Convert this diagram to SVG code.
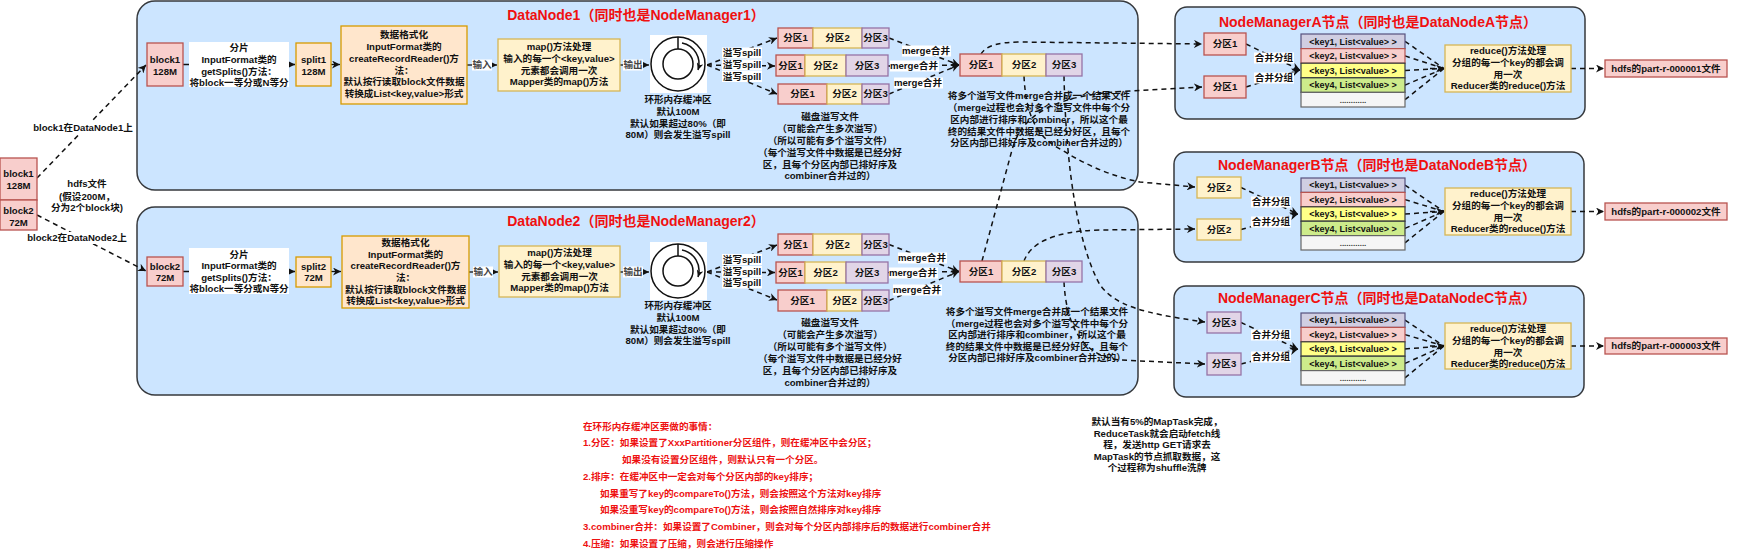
<svg xmlns="http://www.w3.org/2000/svg" width="1739" height="550" viewBox="0 0 1739 550">
<style>
text{font-family:"Liberation Sans","Noto Sans CJK SC",sans-serif;font-weight:bold;font-size:9.6px;fill:#111;text-anchor:middle}
.ttl{font-size:14px;fill:#f01010}
.red{fill:#ee1111;text-anchor:start}
.lbl{fill:#444}
.kt{font-size:9px}
.dots{font-size:8px;fill:#333}
.cont{fill:#cce5ff;stroke:#36393d;stroke-width:1.5}
.pink{fill:#f8cecc;stroke:#b85450;stroke-width:1.3}
.org{fill:#ffe6cc;stroke:#d79b00;stroke-width:1.3}
.yel{fill:#fff2cc;stroke:#d6b656;stroke-width:1.3}
.pur{fill:#e1d5e7;stroke:#9673a6;stroke-width:1.3}
.k1{fill:#d0cee2;stroke:#56517e;stroke-width:1.2}
.k2{fill:#f8cecc;stroke:#b85450;stroke-width:1.2}
.k3{fill:#ffff88;stroke:#36393d;stroke-width:1.2}
.k4{fill:#cdeb8b;stroke:#36393d;stroke-width:1.2}
.k5{fill:#f5f5f5;stroke:#666;stroke-width:1.2}
.sol{fill:none;stroke:#111;stroke-width:1.3}
.dsh{fill:none;stroke:#111;stroke-width:1.5;stroke-dasharray:5 4}
.bg{fill:#fff}
.ring{fill:none;stroke:#111;stroke-width:1.5}
</style>
<defs>
<marker id="a" viewBox="0 0 10 10" refX="10" refY="5" markerWidth="8" markerHeight="8" markerUnits="userSpaceOnUse" orient="auto"><path d="M0,0 L10,5 L0,10 L3,5 z" fill="#111"/></marker>
<marker id="s" viewBox="0 0 10 10" refX="10" refY="5" markerWidth="7" markerHeight="7" markerUnits="userSpaceOnUse" orient="auto"><path d="M0,0 L10,5 L0,10 L3,5 z" fill="#111"/></marker>
</defs>

<!-- containers -->
<g id="datanode1">
<rect class="cont" x="137" y="1" width="1001" height="189" rx="18"/>
<text class="ttl" x="636" y="20">DataNode1（同时也是NodeManager1）</text>
</g>
<g id="datanode2">
<rect class="cont" x="137" y="207" width="1001" height="188" rx="18"/>
<text class="ttl" x="636" y="226">DataNode2（同时也是NodeManager2）</text>
</g>
<g id="nodemanagerA">
<rect class="cont" x="1175" y="7" width="410" height="112" rx="12"/>
<text class="ttl" x="1378" y="27">NodeManagerA节点（同时也是DataNodeA节点）</text>
</g>
<g id="nodemanagerB">
<rect class="cont" x="1174" y="152" width="410" height="110" rx="12"/>
<text class="ttl" x="1377" y="170">NodeManagerB节点（同时也是DataNodeB节点）</text>
</g>
<g id="nodemanagerC">
<rect class="cont" x="1174" y="286" width="410" height="111" rx="12"/>
<text class="ttl" x="1377" y="303">NodeManagerC节点（同时也是DataNodeC节点）</text>
</g>

<g id="connectors">
<!-- hdfs file to datanodes -->
<path class="dsh" d="M37,178 L146,65" marker-end="url(#a)"/>
<path class="dsh" d="M37,215 L146,271" marker-end="url(#a)"/>
<rect class="bg" x="33" y="122" width="100" height="12"/>
<text x="83" y="131.4">block1在DataNode1上</text>
<rect class="bg" x="27" y="232" width="100" height="12"/>
<text x="77" y="241.4">block2在DataNode2上</text>

<!-- DN1 chain -->
<path class="sol" d="M183,64.5 H295" marker-end="url(#a)"/>
<path class="sol" d="M331,64.5 H340" marker-end="url(#a)"/>
<path class="sol" d="M467,65 H497" marker-end="url(#a)"/>
<path class="sol" d="M620,65 H649" marker-end="url(#a)"/>
<rect class="bg" x="189" y="42" width="100" height="45"/>
<text x="239" y="51.4">分片</text>
<text x="239" y="63">InputFormat类的</text>
<text x="239" y="74.6">getSplits()方法：</text>
<text x="239" y="86">将block一等分或N等分</text>
<rect class="bg" x="472" y="59.5" width="20" height="11"/>
<text class="lbl" x="482" y="68.4">输入</text>
<rect class="bg" x="623" y="59.5" width="20" height="11"/>
<text class="lbl" x="633" y="68.4">输出</text>
<path class="dsh" d="M707,65 L777,38" marker-end="url(#a)"/>
<path class="dsh" d="M707,65 L775,66" marker-end="url(#a)"/>
<path class="dsh" d="M707,65 L777,94" marker-end="url(#a)"/>
<rect class="bg" x="722" y="47.5" width="40" height="11"/>
<text x="742" y="56.4">溢写spill</text>
<rect class="bg" x="722" y="59.5" width="40" height="11"/>
<text x="742" y="68.4">溢写spill</text>
<rect class="bg" x="722" y="71" width="40" height="11"/>
<text x="742" y="79.9">溢写spill</text>
<path class="dsh" d="M889,38 L959,65" marker-end="url(#a)"/>
<path class="dsh" d="M888,66 L959,65" marker-end="url(#a)"/>
<path class="dsh" d="M889,94 L959,65" marker-end="url(#a)"/>
<rect class="bg" x="902" y="45.5" width="49" height="11"/>
<text x="926" y="54.4">merge合并</text>
<rect class="bg" x="890" y="60.5" width="49" height="11"/>
<text x="914" y="69.4">merge合并</text>
<rect class="bg" x="894" y="77.5" width="49" height="11"/>
<text x="918" y="86.4">merge合并</text>

<!-- DN2 chain -->
<path class="sol" d="M183,271.5 H295" marker-end="url(#a)"/>
<path class="sol" d="M331,271.5 H341" marker-end="url(#a)"/>
<path class="sol" d="M469,272 H498" marker-end="url(#a)"/>
<path class="sol" d="M620,272 H649" marker-end="url(#a)"/>
<rect class="bg" x="189" y="248" width="100" height="46"/>
<text x="239" y="257.9">分片</text>
<text x="239" y="269.4">InputFormat类的</text>
<text x="239" y="280.9">getSplits()方法：</text>
<text x="239" y="292.4">将block一等分或N等分</text>
<rect class="bg" x="473" y="266.5" width="20" height="11"/>
<text class="lbl" x="483" y="275.4">输入</text>
<rect class="bg" x="623" y="266.5" width="20" height="11"/>
<text class="lbl" x="633" y="275.4">输出</text>
<path class="dsh" d="M707,272 L777,245" marker-end="url(#a)"/>
<path class="dsh" d="M707,272 L775,272.5" marker-end="url(#a)"/>
<path class="dsh" d="M707,272 L777,300" marker-end="url(#a)"/>
<rect class="bg" x="722" y="254" width="40" height="11"/>
<text x="742" y="262.9">溢写spill</text>
<rect class="bg" x="722" y="266" width="40" height="11"/>
<text x="742" y="274.9">溢写spill</text>
<rect class="bg" x="722" y="277.5" width="40" height="11"/>
<text x="742" y="286.4">溢写spill</text>
<path class="dsh" d="M889,244.5 L959,271.5" marker-end="url(#a)"/>
<path class="dsh" d="M888,272.5 L959,271.5" marker-end="url(#a)"/>
<path class="dsh" d="M889,300.5 L959,271.5" marker-end="url(#a)"/>
<rect class="bg" x="898" y="252.5" width="49" height="11"/>
<text x="922" y="261.4">merge合并</text>
<rect class="bg" x="889" y="267.5" width="49" height="11"/>
<text x="913" y="276.4">merge合并</text>
<rect class="bg" x="893" y="284.5" width="49" height="11"/>
<text x="917" y="293.4">merge合并</text>

<!-- shuffle -->
<path class="dsh" d="M981,54 Q988,42 1020,42 L1202,44" marker-end="url(#a)"/>
<path class="dsh" d="M982,261 L1012,150 C1022,112 1060,94 1130,91 L1202,87" marker-end="url(#a)"/>
<path class="dsh" d="M1024,76 C1026,118 1038,138 1062,150 Q1100,174 1140,182 L1195,187" marker-end="url(#a)"/>
<path class="dsh" d="M1064,76 C1066,170 1078,245 1100,285 C1115,305 1140,313 1205,322" marker-end="url(#a)"/>
<path class="dsh" d="M1024,261 C1030,245 1050,231 1100,230 L1195,229" marker-end="url(#a)"/>
<path class="dsh" d="M1064,282 C1066,322 1080,356 1120,360 L1205,364" marker-end="url(#a)"/>

<!-- NM A -->
<path class="dsh" d="M1246,44 L1300,70" marker-end="url(#a)"/>
<path class="dsh" d="M1246,87 L1300,70" marker-end="url(#a)"/>
<rect class="bg" x="1254" y="52.5" width="40" height="11"/>
<text x="1274" y="61.4">合并分组</text>
<rect class="bg" x="1254" y="72.5" width="40" height="11"/>
<text x="1274" y="81.4">合并分组</text>
<path class="dsh" d="M1405,41.3 L1444,68.5 M1405,55.9 L1444,68.5 M1405,70.5 L1444,68.5 M1405,85.1 L1444,68.5 M1405,99.7 L1444,68.5"/>
<path class="dsh" d="M1430,68.5 L1444,68.5" marker-end="url(#a)"/>
<path class="dsh" d="M1571,68.5 L1604,68.5" marker-end="url(#a)"/>

<!-- NM B -->
<path class="dsh" d="M1241,187.5 L1298,214" marker-end="url(#a)"/>
<path class="dsh" d="M1241,229.5 L1298,214" marker-end="url(#a)"/>
<rect class="bg" x="1251" y="196.5" width="40" height="11"/>
<text x="1271" y="205.4">合并分组</text>
<rect class="bg" x="1251" y="216.5" width="40" height="11"/>
<text x="1271" y="225.4">合并分组</text>
<path class="dsh" d="M1405,185.2 L1444,211.5 M1405,199.6 L1444,211.5 M1405,214 L1444,211.5 M1405,228.4 L1444,211.5 M1405,242.8 L1444,211.5"/>
<path class="dsh" d="M1430,211.5 L1444,211.5" marker-end="url(#a)"/>
<path class="dsh" d="M1571,211.5 L1604,211.5" marker-end="url(#a)"/>

<!-- NM C -->
<path class="dsh" d="M1241,322.5 L1298,349" marker-end="url(#a)"/>
<path class="dsh" d="M1241,364 L1298,349" marker-end="url(#a)"/>
<rect class="bg" x="1251" y="329.5" width="40" height="11"/>
<text x="1271" y="338.4">合并分组</text>
<rect class="bg" x="1251" y="351.5" width="40" height="11"/>
<text x="1271" y="360.4">合并分组</text>
<path class="dsh" d="M1405,320.2 L1444,346 M1405,334.6 L1444,346 M1405,349 L1444,346 M1405,363.4 L1444,346 M1405,377.8 L1444,346"/>
<path class="dsh" d="M1430,346 L1444,346" marker-end="url(#a)"/>
<path class="dsh" d="M1571,346 L1604,346" marker-end="url(#a)"/>
</g>

<!-- left hdfs file -->
<g id="file-block1"><rect class="pink" x="0" y="158" width="37" height="42"/><text x="18.5" y="177.4">block1</text><text x="18.5" y="189.4">128M</text></g>
<g id="file-block2"><rect class="pink" x="0" y="200" width="37" height="30"/><text x="18.5" y="214.4">block2</text><text x="18.5" y="225.9">72M</text></g>
<g id="hdfs-label"><text x="87" y="187.4">hdfs文件</text><text x="87" y="199.9">(假设200M，</text><text x="87" y="211.4">分为2个block块)</text></g>

<!-- DN1 nodes -->
<g id="dn1-block1"><rect class="pink" x="147" y="43" width="36" height="43"/><text x="165" y="63.4">block1</text><text x="165" y="75.4">128M</text></g>
<g id="dn1-split1"><rect class="org" x="296" y="43" width="35" height="43"/><text x="313.5" y="63.4">split1</text><text x="313.5" y="75.4">128M</text></g>
<g id="dn1-format"><rect class="org" x="341" y="26" width="126" height="78"/>
<text x="404" y="38.4">数据格式化</text><text x="404" y="50.1">InputFormat类的</text><text x="404" y="61.8">createRecordReader()方</text><text x="404" y="73.5">法：</text><text x="404" y="85.2">默认按行读取block文件数据</text><text x="404" y="96.9">转换成List&lt;key,value&gt;形式</text></g>
<g id="dn1-map"><rect class="yel" x="498" y="39" width="122" height="52"/>
<text x="559" y="50.4">map()方法处理</text><text x="559" y="62.1">输入的每一个&lt;key,value&gt;</text><text x="559" y="73.8">元素都会调用一次</text><text x="559" y="85.4">Mapper类的map()方法</text></g>
<g id="dn1-buffer"><rect x="650" y="35" width="57" height="58" fill="#fff"/>
<circle class="ring" cx="678" cy="64" r="27"/><circle class="ring" cx="678" cy="64" r="15"/>
<line x1="678" y1="37" x2="678" y2="49" stroke="#111" stroke-width="1.5"/>
<path class="ring" d="M682,43 A21,21 0 0 1 698,70" marker-end="url(#s)"/>
<text x="678" y="103.4">环形内存缓冲区</text><text x="678" y="115.1">默认100M</text><text x="678" y="126.8">默认如果超过80%（即</text><text x="678" y="138.4">80M）则会发生溢写spill</text></g>
<g id="dn1-spill1"><rect class="pink" x="778" y="28" width="35" height="20"/><rect class="yel" x="813" y="28" width="49" height="20"/><rect class="pur" x="862" y="28" width="27" height="20"/>
<text x="795.5" y="41.4">分区1</text><text x="837.5" y="41.4">分区2</text><text x="875.5" y="41.4">分区3</text></g>
<g id="dn1-spill2"><rect class="pink" x="776" y="55" width="29" height="21"/><rect class="yel" x="805" y="55" width="41" height="21"/><rect class="pur" x="846" y="55" width="42" height="21"/>
<text x="790.5" y="68.9">分区1</text><text x="825.5" y="68.9">分区2</text><text x="867" y="68.9">分区3</text></g>
<g id="dn1-spill3"><rect class="pink" x="778" y="84" width="49" height="20"/><rect class="yel" x="827" y="84" width="35" height="20"/><rect class="pur" x="862" y="84" width="27" height="20"/>
<text x="802.5" y="97.4">分区1</text><text x="844.5" y="97.4">分区2</text><text x="875.5" y="97.4">分区3</text></g>
<g id="dn1-spill-note"><text x="830" y="120.4">磁盘溢写文件</text><text x="830" y="132.2">（可能会产生多次溢写）</text><text x="830" y="144">（所以可能有多个溢写文件）</text><text x="830" y="155.8">（每个溢写文件中数据是已经分好</text><text x="830" y="167.6">区，且每个分区内部已排好序及</text><text x="830" y="179.4">combiner合并过的）</text></g>
<g id="dn1-merged"><rect class="pink" x="960" y="54" width="42" height="22"/><rect class="yel" x="1002" y="54" width="44" height="22"/><rect class="pur" x="1046" y="54" width="36" height="22"/>
<text x="981" y="68.4">分区1</text><text x="1024" y="68.4">分区2</text><text x="1064" y="68.4">分区3</text></g>
<g id="dn1-merge-note"><text x="1039" y="99.4">将多个溢写文件merge合并成一个结果文件</text><text x="1039" y="111.1">（merge过程也会对多个溢写文件中每个分</text><text x="1039" y="122.8">区内部进行排序和combiner，所以这个最</text><text x="1039" y="134.5">终的结果文件中数据是已经分好区，且每个</text><text x="1039" y="146.2">分区内部已排好序及combiner合并过的）</text></g>

<!-- DN2 nodes -->
<g id="dn2-block2"><rect class="pink" x="147" y="257" width="36" height="29"/><text x="165" y="269.9">block2</text><text x="165" y="281.4">72M</text></g>
<g id="dn2-split2"><rect class="org" x="296" y="257" width="35" height="30"/><text x="313.5" y="269.9">split2</text><text x="313.5" y="281.4">72M</text></g>
<g id="dn2-format"><rect class="org" x="342" y="236" width="127" height="72"/>
<text x="405.5" y="245.9">数据格式化</text><text x="405.5" y="257.6">InputFormat类的</text><text x="405.5" y="269.3">createRecordReader()方</text><text x="405.5" y="281">法：</text><text x="405.5" y="292.7">默认按行读取block文件数据</text><text x="405.5" y="304.4">转换成List&lt;key,value&gt;形式</text></g>
<g id="dn2-map"><rect class="yel" x="499" y="246" width="121" height="51"/>
<text x="559.5" y="256.4">map()方法处理</text><text x="559.5" y="268.1">输入的每一个&lt;key,value&gt;</text><text x="559.5" y="279.8">元素都会调用一次</text><text x="559.5" y="291.4">Mapper类的map()方法</text></g>
<g id="dn2-buffer"><rect x="650" y="242" width="57" height="58" fill="#fff"/>
<circle class="ring" cx="678" cy="271" r="27"/><circle class="ring" cx="678" cy="271" r="15"/>
<line x1="678" y1="244" x2="678" y2="256" stroke="#111" stroke-width="1.5"/>
<path class="ring" d="M682,250 A21,21 0 0 1 698,277" marker-end="url(#s)"/>
<text x="678" y="309.4">环形内存缓冲区</text><text x="678" y="321.1">默认100M</text><text x="678" y="332.8">默认如果超过80%（即</text><text x="678" y="344.4">80M）则会发生溢写spill</text></g>
<g id="dn2-spill1"><rect class="pink" x="778" y="234" width="35" height="21"/><rect class="yel" x="813" y="234" width="49" height="21"/><rect class="pur" x="862" y="234" width="27" height="21"/>
<text x="795.5" y="247.9">分区1</text><text x="837.5" y="247.9">分区2</text><text x="875.5" y="247.9">分区3</text></g>
<g id="dn2-spill2"><rect class="pink" x="776" y="262" width="29" height="21"/><rect class="yel" x="805" y="262" width="41" height="21"/><rect class="pur" x="846" y="262" width="42" height="21"/>
<text x="790.5" y="275.9">分区1</text><text x="825.5" y="275.9">分区2</text><text x="867" y="275.9">分区3</text></g>
<g id="dn2-spill3"><rect class="pink" x="778" y="290" width="49" height="21"/><rect class="yel" x="827" y="290" width="35" height="21"/><rect class="pur" x="862" y="290" width="27" height="21"/>
<text x="802.5" y="303.9">分区1</text><text x="844.5" y="303.9">分区2</text><text x="875.5" y="303.9">分区3</text></g>
<g id="dn2-spill-note"><text x="830" y="326.4">磁盘溢写文件</text><text x="830" y="338.4">（可能会产生多次溢写）</text><text x="830" y="350.4">（所以可能有多个溢写文件）</text><text x="830" y="362.4">（每个溢写文件中数据是已经分好</text><text x="830" y="374.4">区，且每个分区内部已排好序及</text><text x="830" y="386.4">combiner合并过的）</text></g>
<g id="dn2-merged"><rect class="pink" x="960" y="261" width="42" height="21"/><rect class="yel" x="1002" y="261" width="44" height="21"/><rect class="pur" x="1046" y="261" width="36" height="21"/>
<text x="981" y="274.9">分区1</text><text x="1024" y="274.9">分区2</text><text x="1064" y="274.9">分区3</text></g>
<g id="dn2-merge-note"><text x="1037" y="315.4">将多个溢写文件merge合并成一个结果文件</text><text x="1037" y="326.9">（merge过程也会对多个溢写文件中每个分</text><text x="1037" y="338.4">区内部进行排序和combiner，所以这个最</text><text x="1037" y="349.9">终的结果文件中数据是已经分好区，且每个</text><text x="1037" y="361.4">分区内部已排好序及combiner合并过的）</text></g>

<!-- NM A nodes -->
<g id="nmA-p1a"><rect class="pink" x="1204" y="33" width="42" height="22"/><text x="1225" y="47.4">分区1</text></g>
<g id="nmA-p1b"><rect class="pink" x="1204" y="76" width="42" height="22"/><text x="1225" y="90.4">分区1</text></g>
<g id="nmA-table">
<rect class="k1" x="1301" y="34" width="104" height="14.6"/><rect class="k2" x="1301" y="48.6" width="104" height="14.6"/><rect class="k3" x="1301" y="63.2" width="104" height="14.6"/><rect class="k4" x="1301" y="77.8" width="104" height="14.6"/><rect class="k5" x="1301" y="92.4" width="104" height="14.6"/>
<text class="kt" x="1353" y="44.5">&lt;key1, List&lt;value&gt; &gt;</text><text class="kt" x="1353" y="59.1">&lt;key2, List&lt;value&gt; &gt;</text><text class="kt" x="1353" y="73.7">&lt;key3, List&lt;value&gt; &gt;</text><text class="kt" x="1353" y="88.3">&lt;key4, List&lt;value&gt; &gt;</text><text class="dots" x="1353" y="102.5">............</text></g>
<g id="nmA-reduce"><rect class="yel" x="1445" y="45" width="126" height="47"/><text x="1508" y="54.4">reduce()方法处理</text><text x="1508" y="66.1">分组的每一个key的都会调</text><text x="1508" y="77.8">用一次</text><text x="1508" y="89.4">Reducer类的reduce()方法</text></g>
<g id="nmA-out"><rect class="pink" x="1605" y="60" width="122" height="17"/><text x="1666" y="71.9">hdfs的part-r-000001文件</text></g>

<!-- NM B nodes -->
<g id="nmB-p2a"><rect class="yel" x="1197" y="177" width="44" height="21"/><text x="1219" y="190.9">分区2</text></g>
<g id="nmB-p2b"><rect class="yel" x="1197" y="219" width="44" height="21"/><text x="1219" y="232.9">分区2</text></g>
<g id="nmB-table">
<rect class="k1" x="1301" y="178" width="104" height="14.4"/><rect class="k2" x="1301" y="192.4" width="104" height="14.4"/><rect class="k3" x="1301" y="206.8" width="104" height="14.4"/><rect class="k4" x="1301" y="221.2" width="104" height="14.4"/><rect class="k5" x="1301" y="235.6" width="104" height="14.4"/>
<text class="kt" x="1353" y="188.4">&lt;key1, List&lt;value&gt; &gt;</text><text class="kt" x="1353" y="202.8">&lt;key2, List&lt;value&gt; &gt;</text><text class="kt" x="1353" y="217.2">&lt;key3, List&lt;value&gt; &gt;</text><text class="kt" x="1353" y="231.6">&lt;key4, List&lt;value&gt; &gt;</text><text class="dots" x="1353" y="245.6">............</text></g>
<g id="nmB-reduce"><rect class="yel" x="1445" y="188" width="126" height="47"/><text x="1508" y="197.4">reduce()方法处理</text><text x="1508" y="209.1">分组的每一个key的都会调</text><text x="1508" y="220.8">用一次</text><text x="1508" y="232.4">Reducer类的reduce()方法</text></g>
<g id="nmB-out"><rect class="pink" x="1605" y="203" width="122" height="17"/><text x="1666" y="214.9">hdfs的part-r-000002文件</text></g>

<!-- NM C nodes -->
<g id="nmC-p3a"><rect class="pur" x="1207" y="312" width="34" height="21"/><text x="1224" y="325.9">分区3</text></g>
<g id="nmC-p3b"><rect class="pur" x="1207" y="353" width="34" height="22"/><text x="1224" y="367.4">分区3</text></g>
<g id="nmC-table">
<rect class="k1" x="1301" y="313" width="104" height="14.4"/><rect class="k2" x="1301" y="327.4" width="104" height="14.4"/><rect class="k3" x="1301" y="341.8" width="104" height="14.4"/><rect class="k4" x="1301" y="356.2" width="104" height="14.4"/><rect class="k5" x="1301" y="370.6" width="104" height="14.4"/>
<text class="kt" x="1353" y="323.4">&lt;key1, List&lt;value&gt; &gt;</text><text class="kt" x="1353" y="337.8">&lt;key2, List&lt;value&gt; &gt;</text><text class="kt" x="1353" y="352.2">&lt;key3, List&lt;value&gt; &gt;</text><text class="kt" x="1353" y="366.6">&lt;key4, List&lt;value&gt; &gt;</text><text class="dots" x="1353" y="380.6">............</text></g>
<g id="nmC-reduce"><rect class="yel" x="1445" y="323" width="126" height="46"/><text x="1508" y="332.4">reduce()方法处理</text><text x="1508" y="344.1">分组的每一个key的都会调</text><text x="1508" y="355.8">用一次</text><text x="1508" y="367.4">Reducer类的reduce()方法</text></g>
<g id="nmC-out"><rect class="pink" x="1605" y="338" width="122" height="16"/><text x="1666" y="349.4">hdfs的part-r-000003文件</text></g>

<!-- notes -->
<g id="buffer-note">
<text class="red" x="583" y="430.4">在环形内存缓冲区要做的事情：</text>
<text class="red" x="583" y="446.4">1.分区：如果设置了XxxPartitioner分区组件，则在缓冲区中会分区；</text>
<text class="red" x="622" y="463.4">如果没有设置分区组件，则默认只有一个分区。</text>
<text class="red" x="583" y="480.4">2.排序：在缓冲区中一定会对每个分区内部的key排序；</text>
<text class="red" x="600" y="497.4">如果重写了key的compareTo()方法，则会按照这个方法对key排序</text>
<text class="red" x="600" y="513.4">如果没重写key的compareTo()方法，则会按照自然排序对key排序</text>
<text class="red" x="583" y="530.4">3.combiner合并：如果设置了Combiner，则会对每个分区内部排序后的数据进行combiner合并</text>
<text class="red" x="583" y="547.4">4.压缩：如果设置了压缩，则会进行压缩操作</text>
</g>
<g id="shuffle-note">
<text x="1157" y="425.4">默认当有5%的MapTask完成，</text>
<text x="1157" y="436.9">ReduceTask就会启动fetch线</text>
<text x="1157" y="448.4">程，发送http GET请求去</text>
<text x="1157" y="459.9">MapTask的节点抓取数据，这</text>
<text x="1157" y="471.4">个过程称为shuffle洗牌</text>
</g>
</svg>
